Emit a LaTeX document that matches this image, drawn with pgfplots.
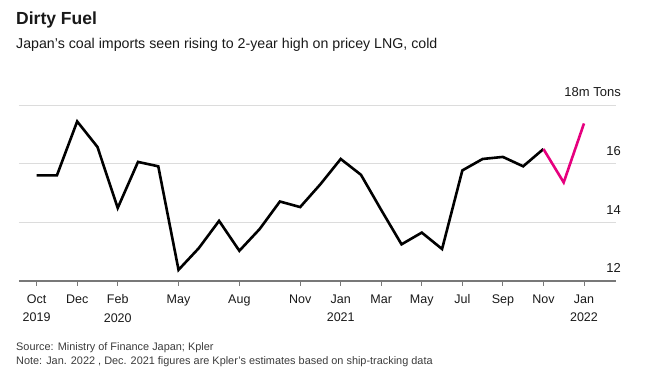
\documentclass[border=0pt]{standalone}
\usepackage{pgfplots}
\pgfplotsset{compat=1.18}
\usepackage{fontspec}
\setmainfont{Liberation Sans}
\definecolor{pinkline}{RGB}{230,0,126}
\definecolor{txt}{RGB}{25,25,25}
\definecolor{gridc}{RGB}{220,220,220}
\definecolor{axisc}{RGB}{120,120,120}
\begin{document}
\begin{tikzpicture}
\useasboundingbox (0pt,0pt) rectangle (645pt,385pt);
\node[anchor=base west, inner sep=0pt, text=txt] at (16pt,360pt) {\fontsize{17.5}{20}\selectfont\bfseries Dirty Fuel};
\node[anchor=base west, inner sep=0pt, text=txt] at (16pt,336pt) {\fontsize{14.2}{17}\selectfont Japan's coal imports seen rising to 2-year high on pricey LNG, cold};
\node[anchor=base west, inner sep=0pt, text=txt!85] at (16pt,34pt) {\fontsize{10.9}{14}\selectfont Source: Ministry of Finance Japan; Kpler};
\node[anchor=base west, inner sep=0pt, text=txt!85] at (16pt,20pt) {\fontsize{10.9}{14}\selectfont Note: Jan. 2022 , Dec. 2021 figures are Kpler's estimates based on ship-tracking data};
\begin{axis}[
  at={(19pt,104pt)}, anchor=south west,
  scale only axis, width=597pt, height=176pt,
  xmin=-0.87, xmax=28.58, ymin=12, ymax=18,
  axis x line*=bottom, axis y line*=right,
  x axis line style={-, draw=axisc, line width=1.6pt},
  y axis line style={draw=none},
  ymajorgrids, grid style={draw=gridc, line width=0.9pt},
  ytick={12,14,16,18},
  yticklabels={12,14,16,18m Tons},
  ytick style={draw=none},
  yticklabel style={anchor=south east, inner sep=0pt, xshift=0pt, yshift=8pt, font=\fontsize{13}{15}\selectfont, text=txt},
  xtick={0,2,4,7,10,13,15,17,19,21,23,25,27},
  xticklabels={Oct\\2019,Dec,Feb\\2020,May,Aug,Nov,Jan\\2021,Mar,May,Jul,Sep,Nov,Jan\\2022},
  xticklabel style={align=center, font=\fontsize{12.5}{18.5}\selectfont, text=txt, yshift=-5pt},
  tick align=outside,
  xtick style={draw=axisc, line width=0.9pt},
  major tick length=5pt,
  clip=false,
]
\addplot[black, line width=2.6pt, line join=miter] coordinates {
(0,15.6) (1,15.6) (2,17.44) (3,16.57) (4,14.49) (5,16.06) (6,15.91) (7,12.38)
(8,13.12) (9,14.05) (10,13.03) (11,13.77) (12,14.71) (13,14.52) (14,15.3)
(15,16.16) (16,15.62) (17,14.42) (18,13.25) (19,13.65) (20,13.09) (21,15.77)
(22,16.16) (23,16.23) (24,15.91) (25,16.5)};
\addplot[pinkline, line width=2.6pt, line join=miter] coordinates {
(25,16.5) (26,15.36) (27,17.37)};
\end{axis}
\end{tikzpicture}
\end{document}
